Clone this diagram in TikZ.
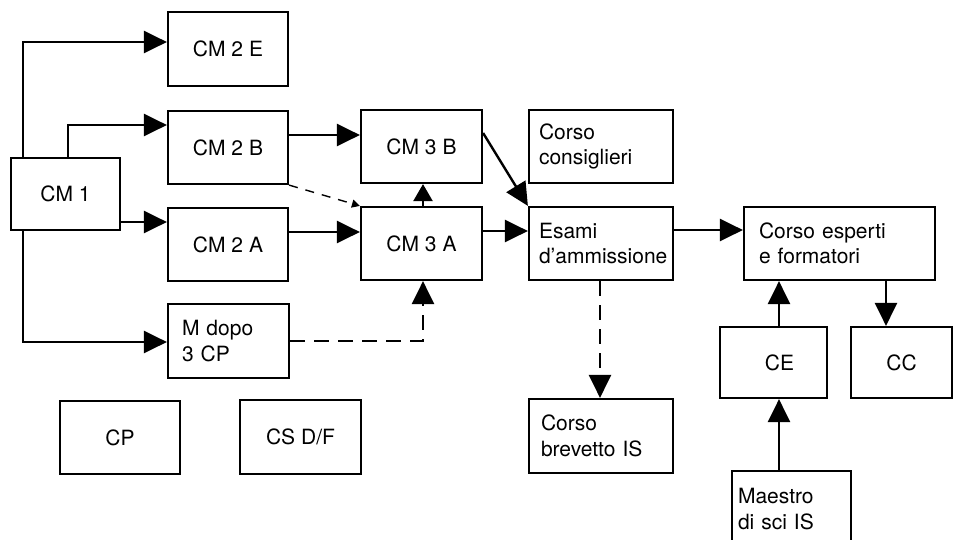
\documentclass[tikz,border=0pt]{standalone}
\usepackage{fontspec}
\setmainfont{TeX Gyre Heros}
\usetikzlibrary{arrows.meta,calc}
\begin{document}
\begin{tikzpicture}[x=1pt,y=-1pt,
  box/.style={draw, line width=2.2pt, rectangle, inner sep=0pt, align=center,
    font={\fontsize{21}{25.5}\selectfont}},
  lbox/.style={box, align=left},
  conn/.style={line width=2.4pt, -{Triangle[length=23pt,width=22pt]}},
  dconn/.style={conn, dash pattern=on 15pt off 9pt},
  thin dashed conn/.style={line width=1.4pt, dash pattern=on 9pt off 8pt, -{Triangle[length=8pt,width=8pt]}}]
\useasboundingbox (0,0) rectangle (953,539);
\fill[white] (0,0) rectangle (953,539);
% boxes
\node[box, minimum width=120pt, minimum height=74pt] (cm2e) at (228,49) {CM 2 E};
\node[box, minimum width=120pt, minimum height=73pt] (cm2b) at (228,147.5) {CM 2 B};
\node[box, minimum width=109pt, minimum height=72pt] (cm1) at (65.5,194) {CM 1};
\node[box, minimum width=120pt, minimum height=73pt] (cm2a) at (228,244.5) {CM 2 A};
\node[lbox, text width=93pt, inner xsep=14pt, minimum height=74pt] (mdopo) at (228.5,341) {M dopo\\3 CP};
\node[box, minimum width=120pt, minimum height=73pt] (cp) at (120,437.5) {CP};
\node[box, minimum width=121pt, minimum height=74pt] (csdf) at (300.5,437) {CS D/F};
\node[box, minimum width=121pt, minimum height=73pt] (cm3b) at (421.5,146.5) {CM 3 B};
\node[box, minimum width=121pt, minimum height=73pt] (cm3a) at (421.5,243.5) {CM 3 A};
\node[lbox, text width=124pt, inner xsep=10pt, minimum height=73pt] (cons) at (601,146.5) {Corso\\consiglieri};
\node[lbox, text width=124pt, inner xsep=10pt, minimum height=73pt] (esami) at (601,243.5) {Esami\\d’ammissione};
\node[lbox, text width=161pt, inner xsep=15pt, minimum height=73pt] (esperti) at (839.5,243.5) {Corso esperti\\e formatori};
\node[lbox, text width=120pt, inner xsep=12pt, minimum height=74pt] (brev) at (601,436) {Corso\\brevetto IS};
\node[box, minimum width=107pt, minimum height=71pt] (ce) at (773.5,362.5) {\hspace*{12pt}CE};
\node[box, minimum width=101pt, minimum height=71pt] (cc) at (901.5,362.5) {CC};
\node[lbox, text width=107pt, inner xsep=6pt, minimum height=76pt] (maestro) at (791.5,509) {Maestro\\di sci IS};
% connectors
\draw[conn] (cm1.north -| 23,0) |- (cm2e.west |- 0,42);
\draw[conn] (cm1.north -| 68,0) |- (cm2b.west |- 0,125);
\draw[conn] (cm1.east |- 0,222) -- (cm2a.west |- 0,222);
\draw[conn] (cm1.south -| 23,0) |- (mdopo.west |- 0,342);
\draw[conn] (cm2b.east |- 0,135) -- (cm3b.west |- 0,135);
\draw[conn] (cm2a.east |- 0,232) -- (cm3a.west |- 0,232);
\draw[thin dashed conn] (cm2b.south east) -- (cm3a.north west);
\draw[conn, -{Triangle[length=17pt,width=19pt]}] (cm3a.north -| 423,0) -- (cm3b.south -| 423,0);
\draw[dconn] (mdopo.east) -| (cm3a.south -| 423,0);
\draw[conn] (cm3b.east |- 0,133) -- (esami.north west);
\draw[conn] (cm3a.east |- 0,231) -- (esami.west |- 0,231);
\draw[conn] (esami.east |- 0,230) -- (esperti.west |- 0,230);
\draw[dconn] (esami.south -| 600,0) -- (brev.north -| 600,0);
\draw[conn] (ce.north -| 779,0) -- (esperti.south -| 779,0);
\draw[conn] (esperti.south -| 886,0) -- (cc.north -| 886,0);
\draw[conn] (maestro.north -| 779,0) -- (ce.south -| 779,0);
\end{tikzpicture}
\end{document}
